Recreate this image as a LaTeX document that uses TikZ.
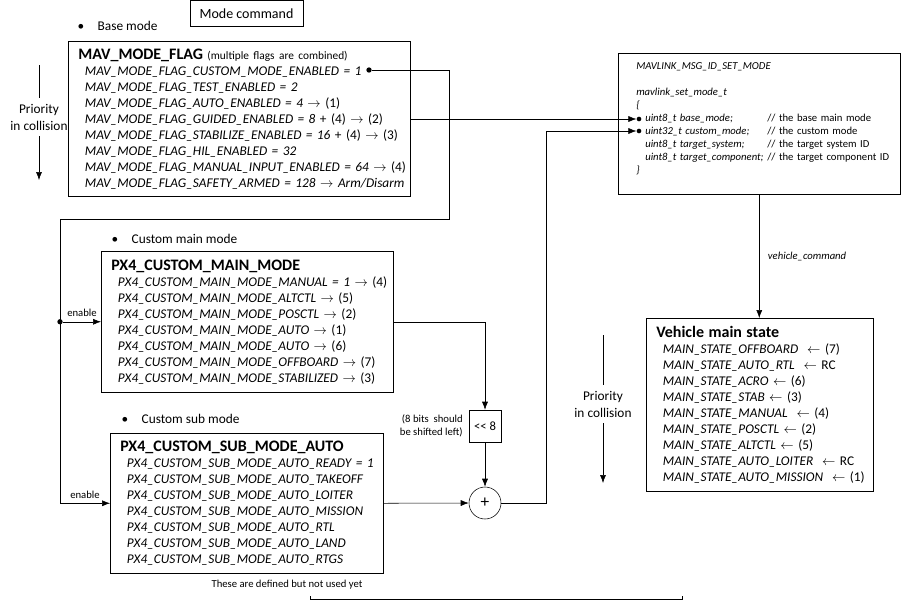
\documentclass[tikz,border=0pt]{standalone}
\usepackage{fontspec}
\setmainfont{Carlito}
\usepackage{tikz}
\usetikzlibrary{arrows.meta,positioning,calc}

\newcommand{\itm}[1]{\mbox{\hspace*{5pt}\itshape #1}}
\newcommand{\fld}[2]{\mbox{\hspace*{12.75pt}\makebox[91.5pt][l]{\itshape #1}#2}}
\newcommand{\hd}[1]{{\fontsize{12}{12}\selectfont\bfseries #1}}

\begin{document}
\begin{tikzpicture}[x=0.75pt,y=-0.75pt]
	\tikzstyle{every node}=[font=\fontsize{10}{12}\selectfont]
	\tikzstyle{mbox}=[draw, anchor=north west, align=left, inner xsep=7.5pt, inner ysep=0pt]
	\tikzstyle{dot}=[circle, fill, inner sep=0pt, minimum size=4pt]
	\tikzstyle{conn}=[-{Latex[length=6pt,width=4.5pt]}]
	\tikzstyle{small}=[font=\fontsize{8}{9.75}\selectfont]
	\tikzstyle{prio}=[align=center, inner ysep=4.5pt, font=\fontsize{10}{12.75}\selectfont]
	\useasboundingbox (0,0) rectangle (902,601);

	% header and bullets
	\node[draw, minimum width=84.75pt, minimum height=19.5pt, font=\fontsize{10.5}{12}\selectfont] (modecmd) at (246.5,13.5) {Mode command};
	\node[anchor=west] (baselbl) at (73,26) {\textbullet\hspace{10pt}Base mode};
	\node[anchor=west] (mainlbl) at (107,239) {\textbullet\hspace{10pt}Custom main mode};
	\node[anchor=west] (sublbl) at (117,419) {\textbullet\hspace{10pt}Custom sub mode};

	% base mode flags
	\node[mbox, minimum width=256.5pt, minimum height=116.25pt, text width=241.5pt] (flag) at (68,41) {
		\hd{MAV\_MODE\_FLAG} {\fontsize{8.5}{12}\selectfont(multiple flags are combined)}\\
		\itm{MAV\_MODE\_FLAG\_CUSTOM\_MODE\_ENABLED = 1}\\
		\itm{MAV\_MODE\_FLAG\_TEST\_ENABLED = 2}\\
		\itm{MAV\_MODE\_FLAG\_AUTO\_ENABLED = 4 \textup{$\rightarrow$ (1)}}\\
		\itm{MAV\_MODE\_FLAG\_GUIDED\_ENABLED = 8 \textup{+ (4) $\rightarrow$ (2)}}\\
		\itm{MAV\_MODE\_FLAG\_STABILIZE\_ENABLED = 16 \textup{+ (4) $\rightarrow$ (3)}}\\
		\itm{MAV\_MODE\_FLAG\_HIL\_ENABLED = 32}\\
		\itm{MAV\_MODE\_FLAG\_MANUAL\_INPUT\_ENABLED = 64 \textup{$\rightarrow$ (4)}}\\
		\itm{MAV\_MODE\_FLAG\_SAFETY\_ARMED = 128 \textup{$\rightarrow$} Arm/Disarm}};

	% custom main mode
	\node[mbox, minimum width=219pt, minimum height=105.75pt, text width=204pt] (main) at (101,251) {
		\hd{PX4\_CUSTOM\_MAIN\_MODE}\\
		\itm{PX4\_CUSTOM\_MAIN\_MODE\_MANUAL = 1 \textup{$\rightarrow$ (4)}}\\
		\itm{PX4\_CUSTOM\_MAIN\_MODE\_ALTCTL \textup{$\rightarrow$ (5)}}\\
		\itm{PX4\_CUSTOM\_MAIN\_MODE\_POSCTL \textup{$\rightarrow$ (2)}}\\
		\itm{PX4\_CUSTOM\_MAIN\_MODE\_AUTO \textup{$\rightarrow$ (1)}}\\
		\itm{PX4\_CUSTOM\_MAIN\_MODE\_AUTO \textup{$\rightarrow$ (6)}}\\
		\itm{PX4\_CUSTOM\_MAIN\_MODE\_OFFBOARD \textup{$\rightarrow$ (7)}}\\
		\itm{PX4\_CUSTOM\_MAIN\_MODE\_STABILIZED \textup{$\rightarrow$ (3)}}};

	% custom sub mode
	\node[mbox, minimum width=204.75pt, minimum height=105pt, text width=189.75pt] (sub) at (110,433) {
		\hd{PX4\_CUSTOM\_SUB\_MODE\_AUTO}\\
		\itm{PX4\_CUSTOM\_SUB\_MODE\_AUTO\_READY = 1}\\
		\itm{PX4\_CUSTOM\_SUB\_MODE\_AUTO\_TAKEOFF}\\
		\itm{PX4\_CUSTOM\_SUB\_MODE\_AUTO\_LOITER}\\
		\itm{PX4\_CUSTOM\_SUB\_MODE\_AUTO\_MISSION}\\
		\itm{PX4\_CUSTOM\_SUB\_MODE\_AUTO\_RTL}\\
		\itm{PX4\_CUSTOM\_SUB\_MODE\_AUTO\_LAND}\\
		\itm{PX4\_CUSTOM\_SUB\_MODE\_AUTO\_RTGS}};
	\node[small] (unused) at (287,585) {These are defined but not used yet};
	\draw (310,596) -- (310,599) -- (682,599) -- (682,596);

	% shift and add
	\node[draw, minimum size=24pt, inner sep=0pt, font=\fontsize{9.5}{12}\selectfont] (shift) at (485,426) {<{}< 8};
	\node[small, align=right, left=1pt of shift] (shiftnote) {(8 bits~ should\\be shifted left)};
	\node[draw, circle, minimum size=24pt, inner sep=0pt, font=\fontsize{13}{13}\selectfont] (plus) at (485,503) {+};

	% set mode message
	\node[mbox, small, minimum width=211.5pt, minimum height=105.75pt, text width=196.5pt] (setmode) at (618,53) {
		\hspace*{6pt}\textit{MAVLINK\_MSG\_ID\_SET\_MODE}\\[9.75pt]
		\hspace*{6pt}\textit{mavlink\_set\_mode\_t}\\
		\hspace*{6pt}\textit{\{}\\
		\fld{uint8\_t base\_mode;}{// the base main mode}\\
		\fld{uint32\_t custom\_mode;}{// the custom mode}\\
		\fld{uint8\_t target\_system;}{// the target system ID}\\
		\fld{uint8\_t target\_component;}{// the target component ID}\\
		\hspace*{6pt}\textit{\}}\rule[-8pt]{0pt}{0pt}};
	\node[dot, minimum size=3.5pt] (basein) at (639,119) {};
	\node[dot, minimum size=3.5pt] (custin) at (639,131) {};

	% vehicle main state
	\node[mbox, minimum width=170.25pt, minimum height=129.75pt, text width=155.25pt] (state) at (646,318) {
		\hd{Vehicle main state}\\
		\itm{MAIN\_STATE\_OFFBOARD ~\textup{$\leftarrow$ (7)}}\\
		\itm{MAIN\_STATE\_AUTO\_RTL ~\textup{$\leftarrow$ RC}}\\
		\itm{MAIN\_STATE\_ACRO \textup{$\leftarrow$ (6)}}\\
		\itm{MAIN\_STATE\_STAB \textup{$\leftarrow$ (3)}}\\
		\itm{MAIN\_STATE\_MANUAL ~\textup{$\leftarrow$ (4)}}\\
		\itm{MAIN\_STATE\_POSCTL \textup{$\leftarrow$ (2)}}\\
		\itm{MAIN\_STATE\_ALTCTL \textup{$\leftarrow$ (5)}}\\
		\itm{MAIN\_STATE\_AUTO\_LOITER ~\textup{$\leftarrow$ RC}}\\
		\itm{MAIN\_STATE\_AUTO\_MISSION ~\textup{$\leftarrow$ (1)}}};

	% priority arrows
	\node[prio] (prioA) at (39,117) {Priority\\in collision};
	\coordinate (prioAtop) at (39,65);
	\coordinate (prioAend) at (39,180);
	\draw (prioAtop) -- (prioA);
	\draw[conn] (prioA) -- (prioAend);
	\node[prio] (prioB) at (603,404) {Priority\\in collision};
	\coordinate (prioBtop) at (603,335);
	\coordinate (prioBend) at (603,483);
	\draw (prioBtop) -- (prioB);
	\draw[conn] (prioB) -- (prioBend);

	% connectors
	\node[dot] (cmflag) at (369,70) {};
	\coordinate (ret) at (449,219);
	\coordinate (bus) at (60,219);
	\draw[conn] (cmflag) -| (ret) -- (bus) |- (sub.west);
	\node[dot] (split) at (bus |- main.west) {};
	\draw[conn] (split) -- (main.west) node[midway, above, small] (enmain) {enable};
	\coordinate (subin) at (bus |- sub.west);
	\path (subin) -- (sub.west) node[midway, above, small] (ensub) {enable};
	\draw[conn] (flag.east |- basein) -- (basein.west);
	\draw[conn] (main.east) -| (shift.north);
	\draw[conn] (shift.south) -- (plus.north);
	\draw[conn] (sub.east) -- (plus.west);
	\coordinate (rise) at (546,503);
	\draw[conn] (plus.east) -- (rise) |- (custin.west);
	\draw[conn] (setmode.south) -- (setmode.south |- state.north) node[midway, right=3pt, small] (vc) {\itshape vehicle\_command};
\end{tikzpicture}
\end{document}
